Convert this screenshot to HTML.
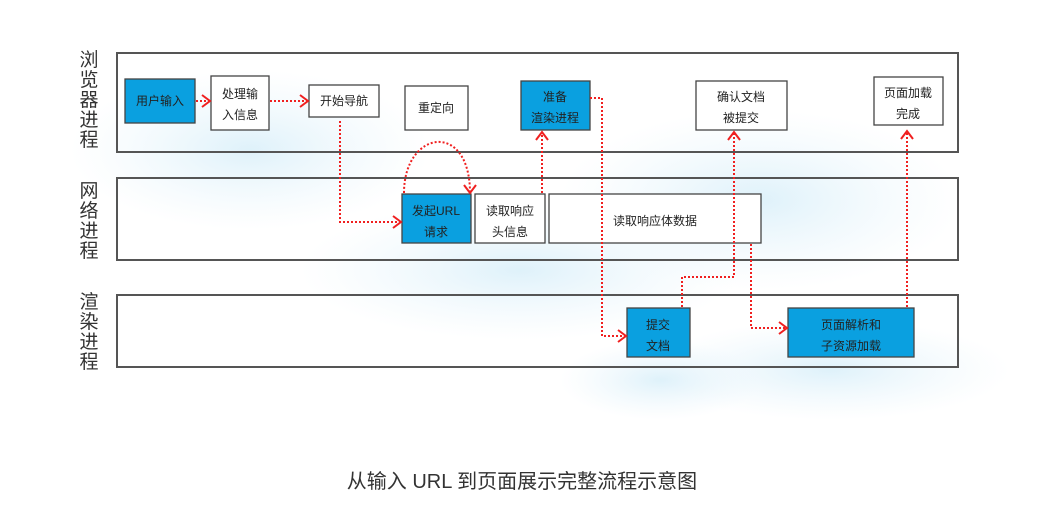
<!DOCTYPE html>
<html><head><meta charset="utf-8"><style>
html,body{margin:0;padding:0;background:#fff;}
svg{display:block;font-family:"Liberation Sans","Noto Sans CJK SC",sans-serif;}
</style></head><body>
<svg width="1044" height="518" viewBox="0 0 1044 518" xmlns="http://www.w3.org/2000/svg">
<defs>
<radialGradient id="g" cx="50%" cy="50%" r="50%">
<stop offset="0" stop-color="#d6eef9" stop-opacity="0.8"/>
<stop offset="1" stop-color="#e6f4fb" stop-opacity="0"/>
</radialGradient>
<marker id="a" markerWidth="14" markerHeight="14" refX="10" refY="7" orient="auto" markerUnits="userSpaceOnUse">
<path d="M2,1 L10,7 L2,13" fill="none" stroke="#f02020" stroke-width="2"/>
</marker>
</defs>
<rect width="1044" height="518" fill="#fff"/>
<ellipse cx="250" cy="150" rx="180" ry="80" fill="url(#g)"/>
<ellipse cx="520" cy="270" rx="220" ry="70" fill="url(#g)"/>
<ellipse cx="760" cy="200" rx="200" ry="90" fill="url(#g)"/>
<ellipse cx="830" cy="370" rx="180" ry="50" fill="url(#g)"/>
<ellipse cx="660" cy="380" rx="100" ry="40" fill="url(#g)"/>

<g fill="none" stroke="#555" stroke-width="2">
<rect x="117" y="53" width="841" height="99"/>
<rect x="117" y="178" width="841" height="82"/>
<rect x="117" y="295" width="841" height="72"/>
</g>
<g font-size="19" fill="#333" text-anchor="middle">
<text x="89" y="66">浏</text><text x="89" y="86">览</text><text x="89" y="106">器</text><text x="89" y="126">进</text><text x="89" y="146">程</text>
<text x="89" y="197">网</text><text x="89" y="217">络</text><text x="89" y="237">进</text><text x="89" y="257">程</text>
<text x="89" y="308">渲</text><text x="89" y="328">染</text><text x="89" y="348">进</text><text x="89" y="368">程</text>
</g>

<g stroke="#444" stroke-width="1.3">
<rect x="125" y="79" width="70" height="44" fill="#0aa0e0"/>
<rect x="211" y="76" width="58" height="54" fill="#fff"/>
<rect x="309" y="85" width="70" height="32" fill="#fff"/>
<rect x="405" y="86" width="63" height="44" fill="#fff"/>
<rect x="521" y="81" width="69" height="49" fill="#0aa0e0"/>
<rect x="696" y="81" width="91" height="49" fill="#fff"/>
<rect x="874" y="77" width="69" height="48" fill="#fff"/>
<rect x="402" y="194" width="69" height="49" fill="#0aa0e0"/>
<rect x="475" y="194" width="70" height="49" fill="#fff"/>
<rect x="549" y="194" width="212" height="49" fill="#fff"/>
<rect x="627" y="308" width="63" height="49" fill="#0aa0e0"/>
<rect x="788" y="308" width="126" height="49" fill="#0aa0e0"/>
</g>
<g font-size="12" fill="#222" text-anchor="middle">
<text x="160" y="105">用户输入</text>
<text x="240" y="98">处理输</text><text x="240" y="119">入信息</text>
<text x="344" y="105">开始导航</text>
<text x="436" y="112">重定向</text>
<text x="555" y="101">准备</text><text x="555" y="122">渲染进程</text>
<text x="741" y="101">确认文档</text><text x="741" y="122">被提交</text>
<text x="908" y="97">页面加载</text><text x="908" y="118">完成</text>
<text x="436" y="215">发起URL</text><text x="436" y="236">请求</text>
<text x="510" y="215">读取响应</text><text x="510" y="236">头信息</text>
<text x="655" y="225">读取响应体数据</text>
<text x="658" y="329">提交</text><text x="658" y="350">文档</text>
<text x="851" y="329">页面解析和</text><text x="851" y="350">子资源加载</text>
</g>

<g fill="none" stroke="#f02020" stroke-width="2" stroke-dasharray="2,2" marker-end="url(#a)">
<path d="M196,101 L210,101"/>
<path d="M270,101 L308,101"/>
<path d="M340,121 L340,222 L401,222"/>
<path d="M404,193 C404,130 470,120 470,193"/>
<path d="M542,193 L542,132"/>
<path d="M590,98 L602,98 L602,336 L626,336"/>
<path d="M682,307 L682,277 L734,277 L734,132"/>
<path d="M751,244 L751,328 L787,328"/>
<path d="M907,307 L907,131"/>
</g>

<text x="522" y="488" font-size="20" fill="#333" text-anchor="middle">从输入 URL 到页面展示完整流程示意图</text>
</svg>
</body></html>
